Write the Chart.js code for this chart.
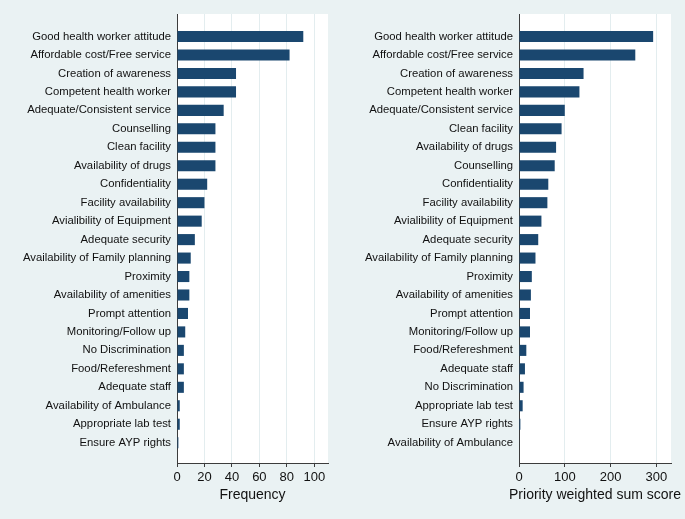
<!DOCTYPE html>
<html>
<head>
<meta charset="utf-8">
<script src="https://cdn.jsdelivr.net/npm/chart.js@4"></script>
<style>
  html, body { margin: 0; padding: 0; background: #eaf2f3; }
  #wrap { position: relative; width: 685px; height: 519px; }
  canvas { position: absolute; top: 0; }
  #freq { left: 0; }
  #score { left: 342px; }
</style>
</head>
<body>
<div id="wrap">
  <canvas id="freq" width="342" height="519"></canvas>
  <canvas id="score" width="343" height="519"></canvas>
</div>
<script>
// left panel: frequency
const freqLabels = [
  'Good health worker attitude', 'Affordable cost/Free service', 'Creation of awareness',
  'Competent health worker', 'Adequate/Consistent service', 'Counselling', 'Clean facility',
  'Availability of drugs', 'Confidentiality', 'Facility availability', 'Avialibility of Equipment',
  'Adequate security', 'Availability of Family planning', 'Proximity', 'Availability of amenities',
  'Prompt attention', 'Monitoring/Follow up', 'No Discrimination', 'Food/Refereshment',
  'Adequate staff', 'Availability of Ambulance', 'Appropriate lab test', 'Ensure AYP rights'
];
const freqValues = [92, 82, 43, 43, 34, 28, 28, 28, 22, 20, 18, 13, 10, 9, 9, 8, 6, 5, 5, 5, 2, 2, 1];
const freqTicks = [0, 20, 40, 60, 80, 100];

// right panel: priority weighted sum score
const scoreLabels = [
  'Good health worker attitude', 'Affordable cost/Free service', 'Creation of awareness',
  'Competent health worker', 'Adequate/Consistent service', 'Clean facility', 'Availability of drugs',
  'Counselling', 'Confidentiality', 'Facility availability', 'Avialibility of Equipment',
  'Adequate security', 'Availability of Family planning', 'Proximity', 'Availability of amenities',
  'Prompt attention', 'Monitoring/Follow up', 'Food/Refereshment', 'Adequate staff',
  'No Discrimination', 'Appropriate lab test', 'Ensure AYP rights', 'Availability of Ambulance'
];
const scoreValues = [293, 254, 141, 132, 100, 93, 81, 78, 64, 62, 49, 42, 36, 28, 26, 24, 24, 16, 13, 10, 8, 3, 1];
const scoreTicks = [0, 100, 200, 300];

const FONT = '"Liberation Sans", Arial, Helvetica, sans-serif';
const BAR = '#1a476f';

// white plot region behind the bars
const plotBg = {
  id: 'plotBg',
  beforeDraw(chart) {
    const { ctx, chartArea: a } = chart;
    ctx.save();
    ctx.fillStyle = '#ffffff';
    ctx.fillRect(a.left, a.top, a.right - a.left, a.bottom - a.top);
    ctx.restore();
  }
};

// axis title, allowed to be wider than the plot (chart.js would squeeze it)
const xTitle = {
  id: 'xTitle',
  afterDraw(chart, args, opts) {
    const { ctx, chartArea: a } = chart;
    ctx.save();
    ctx.font = '14px ' + FONT;
    ctx.fillStyle = '#111';
    ctx.textAlign = 'center';
    ctx.textBaseline = 'middle';
    ctx.fillText(opts.text, (a.left + a.right) / 2, a.bottom + 32);
    ctx.restore();
  }
};

function makeChart(id, labels, values, xMax, xStep, title) {
  new Chart(document.getElementById(id), {
    type: 'bar',
    data: {
      datasets: [{
        data: values.map((v, i) => ({ x: v, y: i })),
        backgroundColor: BAR,
        borderWidth: 0,
        barPercentage: 0.6,
        categoryPercentage: 1
      }]
    },
    plugins: [plotBg, xTitle],
    options: {
      indexAxis: 'y',
      responsive: false,
      animation: false,
      devicePixelRatio: 1,
      layout: { padding: { top: 14, right: 14, bottom: 0, left: 0 } },
      plugins: {
        legend: { display: false },
        tooltip: { enabled: false },
        xTitle: { text: title }
      },
      scales: {
        y: {
          type: 'linear',
          reverse: true,
          offset: false,   // bar charts turn this on for the index axis
          min: -1.22,
          max: 23.1,
          afterFit(scale) { scale.width = 177; },
          grid: { display: false, drawTicks: false, offset: false },
          border: { display: true, color: '#3c3c3c', width: 1 },
          ticks: {
            stepSize: 1,
            maxTicksLimit: 100,
            includeBounds: false,
            autoSkip: false,
            padding: 6,
            color: '#111',
            font: { family: FONT, size: 11.3 },
            callback: v => labels[v] ?? ''
          }
        },
        x: {
          type: 'linear',
          min: 0,
          max: xMax,
          afterFit(scale) { scale.height = 56; },
          grid: { color: '#e3edef', lineWidth: 1, tickColor: '#3c3c3c', tickLength: 4 },
          border: { display: true, color: '#3c3c3c', width: 1 },
          ticks: {
            stepSize: xStep,
            includeBounds: false,
            padding: 3,
            maxRotation: 0,
            color: '#111',
            font: { family: FONT, size: 13 }
          }
        }
      }
    }
  });
}

makeChart('freq', freqLabels, freqValues, 110, freqTicks[1] - freqTicks[0], 'Frequency');
makeChart('score', scoreLabels, scoreValues, 332, scoreTicks[1] - scoreTicks[0], 'Priority weighted sum score');
</script>
</body>
</html>
